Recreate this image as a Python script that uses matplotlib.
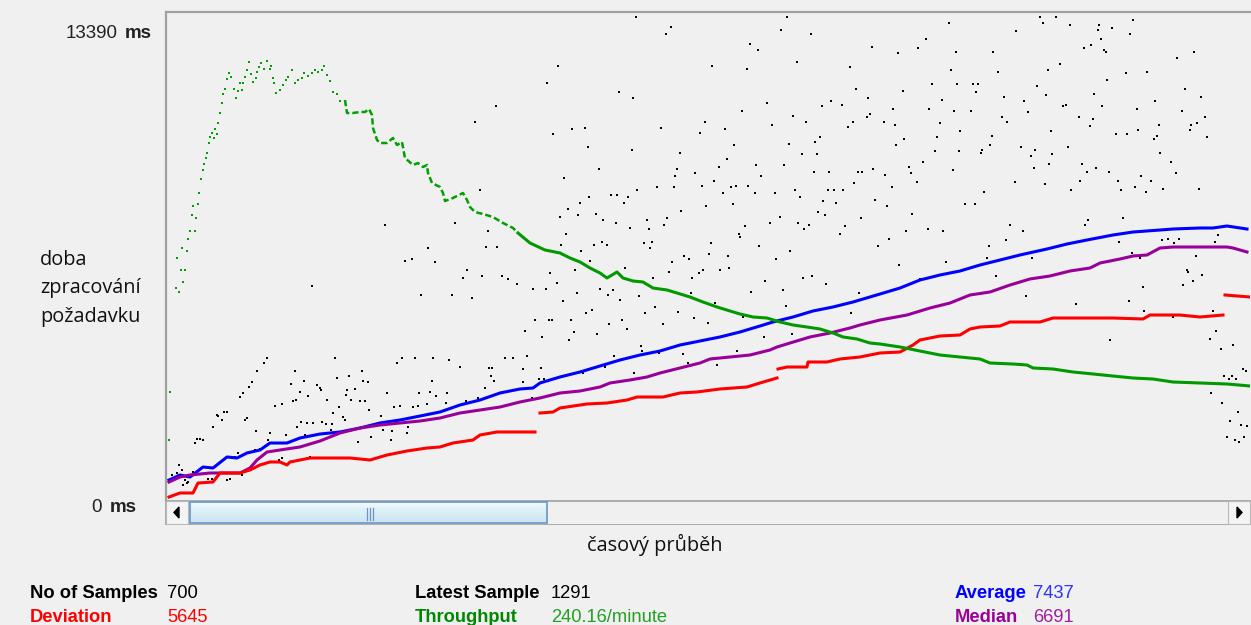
import matplotlib
matplotlib.use('Agg')
import matplotlib.pyplot as plt
from matplotlib.patches import Rectangle
import numpy as np

# ---- data (sample index, response time in ms) ----
avg_x = [4, 15, 25, 38, 48, 62, 72, 82, 95, 105, 122, 135, 155, 175, 195, 215, 235, 255, 275, 295,
         315, 335, 355, 368, 375, 395, 415, 435, 455, 475, 495, 515, 535, 555, 575, 595, 608, 628,
         648, 668, 688, 715, 735, 755, 775, 795, 815, 835, 855, 882, 902, 922, 948, 968, 995, 1008,
         1035, 1048, 1062, 1082]
avg_y = [573, 717, 659, 946, 917, 1233, 1204, 1348, 1434, 1634, 1634, 1778, 1892, 1950, 2064, 2208,
         2294, 2408, 2523, 2724, 2867, 3068, 3183, 3211, 3355, 3527, 3670, 3842, 4014, 4157, 4272,
         4444, 4559, 4674, 4817, 4989, 5104, 5247, 5419, 5534, 5677, 5906, 6078, 6308, 6451, 6566,
         6738, 6881, 7025, 7197, 7340, 7455, 7598, 7684, 7741, 7770, 7799, 7799, 7856, 7770]

med_x = [4, 15, 25, 45, 75, 85, 92, 102, 115, 135, 155, 175, 195, 215, 235, 255, 275, 295, 315, 335,
         355, 375, 395, 415, 435, 445, 465, 482, 495, 515, 535, 545, 565, 585, 605, 612, 625, 635,
         645, 665, 685, 695, 715, 742, 765, 785, 805, 825, 845, 865, 885, 905, 925, 935, 955, 968,
         982, 995, 1008, 1035, 1062, 1068, 1082]
med_y = [516, 659, 717, 774, 774, 917, 1147, 1376, 1434, 1520, 1692, 1921, 2064, 2150, 2208, 2265,
         2351, 2494, 2580, 2666, 2810, 2925, 3068, 3125, 3240, 3355, 3441, 3527, 3641, 3785, 3928,
         4043, 4100, 4157, 4301, 4387, 4501, 4588, 4674, 4788, 4932, 5018, 5161, 5304, 5505, 5648,
         5878, 5964, 6164, 6337, 6423, 6566, 6652, 6795, 6910, 6996, 7025, 7225, 7254, 7254, 7254,
         7225, 7111]

dev_x = [4, 15, 28, 33, 48, 55, 75, 85, 95, 105, 115, 122, 125, 145, 185, 205, 222, 242, 262, 275,
         288, 308, 315, 332, 370, 371, 375, 388, 395, 422, 442, 462, 472, 498, 515, 532, 555, 582,
         595, 612, 612.5, 613, 622, 642, 643, 662, 675, 695, 715, 735, 748, 755, 775, 795, 805, 815,
         835, 845, 875, 888, 948, 978, 985, 1015, 1035, 1058, 1059, 1060, 1085]
dev_y = [86, 201, 201, 487, 516, 774, 774, 860, 1004, 1090, 1090, 1004, 1090, 1204, 1204, 1147, 1290,
         1405, 1491, 1520, 1634, 1720, 1864, 1950, 1950, np.nan, 2494, 2523, 2638, 2753, 2781, 2867,
         2953, 2953, 3068, 3097, 3183, 3240, 3355, 3498, np.nan, 3756, 3813, 3813, 3957, 3957, 4043,
         4100, 4215, 4243, 4444, 4588, 4702, 4731, 4903, 4960, 4989, 5104, 5104, 5218, 5218, 5190,
         5304, 5304, 5247, 5304, np.nan, 5878, 5820]

# throughput, ramp-up part (single samples)
thr_pts_x = [4, 5, 11, 14, 12, 17, 16, 20, 18, 22, 23, 25, 30, 27, 31, 28, 33, 34, 36, 38, 39, 41,
             42, 44, 45, 47, 49, 50, 52, 53, 55, 57, 58, 60, 62, 64, 66, 69, 71, 73, 75, 77, 78, 80,
             82, 84, 86, 88, 91, 92, 94, 96, 99, 102, 105, 106, 108, 109, 111, 115, 118, 121, 123,
             127, 130, 133, 137, 139, 143, 147, 150, 153, 157, 159, 162, 165, 168, 172, 175]
thr_pts_y = [1720, 3097, 6078, 5964, 6939, 7225, 6595, 6595, 6250, 7139, 7483, 7713, 7713, 8172,
             8085, 8430, 8487, 8802, 9204, 9462, 9634, 9806, 9949, 10236, 10408, 10523, 10379,
             10637, 10494, 10809, 11096, 11383, 11641, 11784, 12071, 12243, 12128, 11784, 11526,
             11727, 11956, 11756, 11956, 12128, 12329, 12558, 12214, 11985, 12100, 12272, 12415,
             12530, 12357, 12587, 12357, 12444, 12100, 11956, 11669, 11756, 11899, 12042, 12128,
             12329, 11956, 12042, 12100, 12243, 12157, 12243, 12329, 12272, 12329, 12444, 12186,
             12014, 11698, 11641, 11440]
# throughput, continuous part
thr_x = [180, 182, 188, 195, 200, 204, 207, 208, 212, 215, 222, 228, 232, 237, 240, 248, 253, 258,
         262, 263, 267, 275, 278, 280, 288, 298, 302, 305, 310, 318, 328, 338, 348, 353, 365, 380,
         395, 405, 415, 425, 435, 442, 452, 458, 468, 478, 488, 502, 512, 525, 538, 552, 565, 575,
         588, 602, 615, 628, 642, 655, 668, 678, 692, 705, 715, 735, 755, 775, 795, 815, 825, 848,
         862, 868, 888, 908, 928, 948, 968, 988, 1008, 1035, 1062, 1085]
thr_y = [11469, 11096, 11096, 11125, 11125, 11211, 11039, 10666, 10322, 10236, 10236, 10379, 10179,
         10265, 9806, 9605, 9662, 9548, 9605, 9376, 9089, 8974, 8802, 8573, 8659, 8802, 8602, 8401,
         8257, 8200, 8114, 7942, 7799, 7655, 7369, 7168, 7082, 6939, 6824, 6652, 6508, 6365, 6537,
         6365, 6279, 6250, 6078, 6021, 5935, 5820, 5677, 5534, 5419, 5333, 5247, 5218, 5104, 5018,
         4960, 4903, 4788, 4674, 4616, 4501, 4473, 4387, 4272, 4157, 4100, 4043, 3928, 3899, 3871,
         3785, 3756, 3670, 3613, 3555, 3498, 3469, 3383, 3355, 3326, 3269]
thr_split = 360  # samples before this were drawn sparser

# individual samples (black dots)
smp_x = [471, 506, 501, 622, 616, 646, 585, 593, 707, 393, 547, 582, 632, 685, 382, 454, 468, 691,
         703, 602, 666, 677, 657, 577, 628, 705, 702, 540, 641, 688, 683, 607, 388, 407, 420, 496,
         560, 535, 423, 467, 569, 624, 650, 655, 515, 637, 652, 562, 434, 512, 554, 591, 619, 708,
         399, 510, 530, 596, 649, 664, 693, 697, 549, 689, 492, 509, 537, 566, 571, 583, 472, 630,
         663, 669, 678, 446, 452, 424, 463, 558, 590, 610, 635, 415, 459, 568, 541, 658, 671, 710,
         403, 395, 413, 431, 516, 653, 660, 438, 451, 482, 502, 605, 615, 633, 696, 401, 465, 484,
         499, 580, 639, 644, 680, 574, 575, 675, 396, 429, 437, 442, 479, 487, 485, 546, 594, 625,
         713, 416, 519, 524, 544, 563, 611,
         784, 875, 891, 878, 905, 934, 933, 947, 968, 965, 851, 761, 936, 733, 753, 791, 828, 919,
         926, 939, 941, 1029, 1012, 895, 786, 833, 883, 961, 982, 942, 767, 792, 808, 813, 872, 738,
         811, 1020, 881, 929, 839, 1036, 777, 859, 990, 728, 764, 789, 806, 863, 898, 901, 937, 972,
         1017, 719, 730, 775, 837, 842, 914, 928, 925, 994, 1026, 1032, 1040, 1025, 739, 772, 795,
         827, 886, 951, 962, 973, 992, 989, 1042, 731, 770, 794, 817, 816, 825, 856, 870, 866, 887,
         903, 995, 758, 744, 746, 788, 884, 869, 917, 922, 931, 944, 1006, 1011, 720, 752, 727, 850,
         880, 915, 953, 976, 986, 906, 956, 970, 981, 998, 1034, 819, 722, 747, 800, 810, 845, 920,
         923, 958, 741, 763, 778, 858, 724, 841, 824, 954, 997, 1003, 1014, 1053, 1050, 1009, 967,
         1031, 867, 822, 975,
         734, 781, 755, 831, 861, 911, 964, 978, 979, 1022, 1023, 1037, 1028, 1018, 1048, 945, 1008,
         1051, 1045, 1056, 1068, 1059, 1064, 1067, 1071, 1078, 1081, 1046, 1057, 1073, 1065, 1076,
         1082, 1062, 1070, 1074, 1079,
         507, 538, 534, 555, 564, 504, 460, 410, 425, 385, 392, 368, 381, 412, 398, 435, 443, 448,
         455, 474, 488, 527, 600, 586, 618, 638, 647, 661, 694, 526, 550, 621, 686, 360, 370, 384,
         387, 406, 377, 409, 404, 421, 427, 432, 444, 457, 462, 480, 490, 498, 513, 529, 543, 578,
         603, 599, 627, 476, 477, 449, 362, 358, 376, 374, 379, 358, 367, 440, 418, 469, 494, 518,
         523, 552, 572,
         240, 247, 270, 147, 256, 287, 298, 302, 307, 317, 337, 343, 352, 102, 99, 92, 87, 84, 78, 75,
         82, 80, 62, 59, 53, 52, 57, 48, 91, 32, 35, 30, 38, 170, 232, 237, 250, 268, 284, 295, 340,
         348, 324, 327, 326, 329, 320, 130, 126, 139, 152, 155, 156, 172, 184, 197, 198, 203, 190,
         182, 181, 135, 131, 128, 143, 162, 174, 186, 195, 200, 204, 222, 229, 235, 248, 253, 262,
         254, 265, 271, 267, 282, 281, 313, 301, 110, 117, 168, 178, 180, 216, 136, 142, 148, 157,
         161, 167, 121, 105, 132, 140, 166, 193, 206, 218, 227, 226, 242, 243, 114, 117, 138, 145,
         73, 70, 28, 25, 20, 18, 14, 12, 17, 42, 43, 47, 62, 65, 77, 22, 7, 23, 67, 90, 95, 103,
         331, 310, 315, 220, 290, 323, 263, 321, 332]
smp_y = [13849, 13562, 13361, 13849, 13476, 13361, 13074, 12902, 12988, 12444, 12444, 12358, 12558,
         12415, 11956, 11698, 11526, 11784, 11526, 11383, 11440, 11325, 11297, 11153, 11010, 11067,
         10981, 10838, 10838, 10838, 10695, 10752, 10494, 10637, 10666, 10666, 10637, 10523, 10121,
         10035, 10179, 10207, 10265, 10408, 9949, 9921, 9921, 9777, 9490, 9490, 9548, 9605, 9605,
         9490, 9232, 9290, 9376, 9290, 9404, 9404, 9404, 9404, 9146, 9089, 8974, 8974, 9003, 8974,
         9003, 9003, 8888, 8888, 8888, 8888, 8888, 8745, 8745, 8688, 8688, 8802, 8802, 8802, 8688,
         8516, 8516, 8487, 8430, 8573, 8516, 8602, 8344, 8114, 8172, 8200, 8286, 8257, 8172, 8028,
         7942, 8028, 8085, 7942, 8114, 7942, 8085, 7627, 7799, 7770, 7885, 7856, 7770, 7885, 7856,
         7627, 7541, 7627, 7311, 7311, 7397, 7311, 7369, 7397, 7225, 7369, 7283, 7139, 7283, 7139,
         6996, 6910, 7053, 6996, 6910,
         13677, 13849, 13849, 13677, 13619, 13619, 13476, 13533, 13763, 13361, 13447, 13218, 13218,
         12816, 12960, 12845, 12845, 12960, 13046, 12902, 12845, 12845, 12673, 12501, 12329, 12272,
         12329, 12243, 12272, 12042, 11928, 11928, 11928, 11928, 11870, 11727, 11698, 11784, 11612,
         11641, 11555, 11555, 11469, 11440, 11440, 11211, 11211, 11153, 11153, 11125, 11297, 11325,
         11297, 11211, 11153, 10838, 10752, 10809, 10981, 10838, 10981, 10924, 10723, 10752, 10752,
         10809, 10981, 10609, 10351, 10408, 10580, 10437, 10580, 10494, 10494, 10609, 10437, 10351,
         10408, 10179, 10006, 10006, 10035, 9949, 10179, 10121, 10035, 9863, 9921, 10121, 9949, 9691,
         9548, 9376, 9462, 9634, 9519, 9634, 9404, 9519, 9404, 9691, 9376, 9318, 9118, 8974, 9118,
         9060, 9146, 9146, 9290, 9146, 8888, 8888, 8974, 8831, 8917, 8917, 8831, 8430, 8200, 8487,
         8487, 7885, 7885, 8028, 8085, 7713, 7770, 7713, 7713, 7483, 7455, 7283, 7397, 7455, 7483,
         7483, 7598, 7397, 7369, 7082, 6996, 6939, 6939, 6939,
         6738, 6824, 6337, 6423, 5849, 5620, 5706, 6107, 5419, 6595, 6537, 6451, 6279, 6164, 5419,
         4588, 5247, 4846, 4616, 4329, 4444, 3555, 3469, 3555, 3469, 3756, 3699, 3068, 2781, 2523,
         2265, 2150, 2122, 1806, 1720, 1663, 1806,
         6824, 6595, 6508, 6595, 6652, 6537, 6652, 6595, 6853, 6508, 6222, 6050, 6050, 5935, 5706,
         6050, 5878, 6021, 5734, 5849, 6365, 6365, 6279, 5964, 6021, 6365, 6423, 6193, 5935, 5935,
         5648, 5562, 5362, 4846, 5161, 5161, 5161, 5161, 4674, 4817, 4588, 5362, 5448, 4760, 5046,
         5161, 4903, 5362, 5534, 5046, 5390, 5218, 5075, 5247, 5075, 4674, 4760, 4415, 4272, 4129,
         4129, 3756, 3785, 3469, 3469, 3383, 2925, 3813, 3641, 3641, 4215, 4186, 3928, 3871, 4272,
         6853, 6910, 6824, 6136, 5878, 5878, 6365, 6595, 5792, 6423, 6423, 6337, 6193, 4071, 3928,
         3699, 3383, 3240, 3068, 2953, 2351, 2294, 2523, 2523, 2408, 2437, 2294, 2093, 1978, 1749,
         1749, 1634, 1720, 4071, 3928, 4071, 4071, 4071, 4014, 3813, 4071, 4071, 3785, 3785, 3555,
         3412, 3211, 3699, 3326, 3412, 3297, 3211, 3154, 3498, 3555, 3699, 3412, 3383, 3183, 3154,
         3011, 3097, 2867, 2839, 2982, 2867, 2666, 2867, 2839, 2839, 2580, 3068, 2666, 2695, 2666,
         2695, 2753, 3068, 3097, 2982, 3412, 3068, 2781, 2925, 2839, 2695, 2753, 2494, 2380, 2294,
         2408, 2236, 2208, 2208, 2236, 2179, 2179, 1864, 1921, 2093, 1864, 2007, 1663, 1806, 2007,
         1978, 1720, 1921, 2093, 1147, 1204, 1176, 1233, 1348, 1233, 803, 659, 573, 430, 1004, 774,
         860, 774, 602, 602, 573, 602, 717, 487, 717, 516, 1204, 1434, 1462, 1720,
         11297, 10838, 8888, 7885, 7942, 7713, 7225, 7254, 7254]

y_max = 13992

ylabel_lines = ['doba', 'zpracování', 'požadavku']
xlabel = 'časový průběh'

stats_left = [('No of Samples', '700', 'black', 'black'),
              ('Deviation', '5645', '#ff0000', '#ff0000')]
stats_mid = [('Latest Sample', '1291', 'black', 'black'),
             ('Throughput', '240.16/minute', '#008800', '#22a022')]
stats_right = [('Average', '7437', '#0000ff', '#3030ff'),
               ('Median', '6691', '#990099', '#a020a0')]

W, H = 1251, 625
BG = '#f0f0f0'


def fx(px):
    return px / W


def fy(py):
    return 1 - py / H


fig = plt.figure(figsize=(W / 100, H / 100), dpi=100, facecolor=BG)

# main graph
ax = fig.add_axes([fx(166), fy(500), fx(1250) - fx(166), fy(12) - fy(500)])
ax.set_facecolor(BG)
ax.set_xlim(1, 1085)
ax.set_ylim(0, y_max)
ax.set_xticks([])
ax.set_yticks([])
for s in ['right', 'bottom']:
    ax.spines[s].set_visible(False)
for s in ['top', 'left']:
    ax.spines[s].set_color('#a0a0a0')
    ax.spines[s].set_linewidth(1.6)

ax.scatter(smp_x, smp_y, s=4.5, marker='s', color='black', linewidths=0, zorder=2)
ax.scatter(thr_pts_x, thr_pts_y, s=4, marker='s', color='#00a000', linewidths=0, zorder=3)
ax.plot(avg_x, avg_y, color='#0000ff', lw=2.2, zorder=4)
ax.plot(med_x, med_y, color='#990099', lw=2.2, zorder=4)
ax.plot(dev_x, dev_y, color='#ff0000', lw=2.2, zorder=4)

tx = np.array(thr_x)
ty = np.array(thr_y)
early = tx <= thr_split
ax.plot(tx[early], ty[early], color='#00a000', lw=1.8, ls=(0, (2.5, 1.2)), zorder=5)
late = tx >= tx[early][-1]
ax.plot(tx[late], ty[late], color='#009900', lw=2.2, zorder=5)

# scrollbar
sb = fig.add_axes([fx(165), fy(525), fx(1251) - fx(165), fy(500) - fy(525)])
sb.set_xlim(165, 1251)
sb.set_ylim(525, 500)
sb.axis('off')
sb.add_patch(Rectangle((165.5, 500.5), 1084, 24, facecolor=BG, edgecolor='#a0a0a0', lw=1.2))
sb.add_patch(Rectangle((166, 501), 22, 23, facecolor='#f4f4f4', edgecolor='#b8b8b8', lw=0.8))
sb.add_patch(Rectangle((1228, 501), 22, 23, facecolor='#f4f4f4', edgecolor='#b8b8b8', lw=0.8))
sb.fill([179, 174, 179], [507, 512.5, 518], color='black')
sb.fill([1237, 1242, 1237], [507, 512.5, 518], color='black')
grad = np.linspace(0, 1, 20).reshape(-1, 1)
thumb_cmap = matplotlib.colors.LinearSegmentedColormap.from_list(
    'thumb', ['#f4fbfe', '#dff2f7', '#d4ecf4', '#cfe3f3'])
sb.imshow(grad, cmap=thumb_cmap, aspect='auto', extent=(190, 547, 523, 502), zorder=2)
sb.add_patch(Rectangle((190, 502), 357, 21, facecolor='none', edgecolor='#6f9ccc', lw=1.3, zorder=3))
for gx in [366.5, 369.5, 372.5]:
    sb.plot([gx, gx], [508, 520], color='#6f93c4', lw=0.9, zorder=4)

# axis labels
lab = dict(family='Liberation Sans', fontsize=13.5, color='#222222', va='center')
fig.text(fx(118), fy(33), '13390', ha='right', **lab)
fig.text(fx(125), fy(33), 'ms', ha='left', fontweight='bold', **lab)
fig.text(fx(102), fy(508), '0', ha='right', **lab)
fig.text(fx(110), fy(508), 'ms', ha='left', fontweight='bold', **lab)

for i, t in enumerate(ylabel_lines):
    fig.text(fx(40), fy(260 + 28.5 * i), t, ha='left', va='center',
             family='Open Sans', fontsize=14.3, color='#111111')
fig.text(fx(655), fy(545), xlabel, ha='center', va='center',
         family='Open Sans', fontsize=14.3, color='#111111')


# statistics
def stat_rows(rows, xl, xv):
    for i, (name, val, c1, c2) in enumerate(rows):
        y = fy(594 + 23 * i)
        fig.text(fx(xl), y, name, ha='left', va='center', family='Liberation Sans',
                 fontsize=13.2, fontweight='bold', color=c1)
        fig.text(fx(xv), y, val, ha='left', va='center', family='Liberation Sans',
                 fontsize=13.2, color=c2)


stat_rows(stats_left, 30, 167)
stat_rows(stats_mid, 415, 551)
stat_rows(stats_right, 955, 1033)

fig.savefig('out.png', dpi=100, facecolor=BG)
